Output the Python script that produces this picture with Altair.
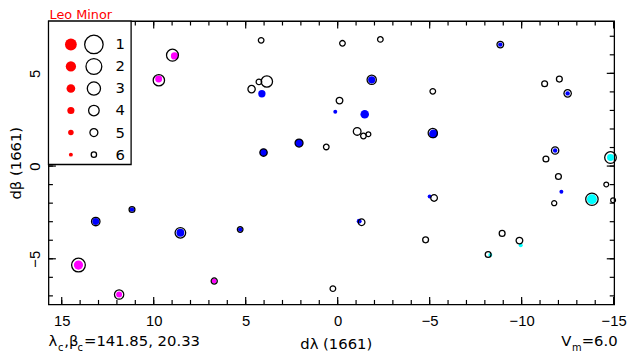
import altair as alt
import pandas as pd

# ---- open black circles: position (dλ, dβ) and magnitude
circ_x = [8.98, 9.72, 14.09, 11.88, 6.71, 13.15, 11.18, 8.55, 5.30, 0.26,
          -1.30, -4.78, -5.24, -8.18, -8.94, -9.88, -11.77, -13.82, -14.97, 4.16,
          -0.26, -2.32, 3.85, 4.28, 4.68, -1.85, -0.10, -1.06, -1.40, -1.67,
          2.10, 0.62, 4.03, -8.84, -5.17, -11.25, -12.05, -12.50, -5.17, -11.82,
          -11.32, -14.83, -12.00, -14.60]
circ_y = [5.98, 4.63, -5.34, -6.93, -6.20, -2.99, -2.34, -3.60, -3.42, -6.61,
          -3.03, -3.98, -1.72, -4.77, -3.63, -4.02, -2.00, -1.79, -1.84, 6.78,
          6.62, 6.83, 4.56, 4.54, 4.15, 4.65, 3.53, 1.87, 1.62, 1.72,
          1.24, 1.03, 0.73, 6.55, 4.03, 4.44, 4.69, 3.92, 1.78, 0.84,
          0.38, 0.46, -0.56, -0.99]
circ_m = [3.5, 3.7, 2.8, 4.5, 5.7, 4.8, 5.8, 4.0, 5.9, 5.9,
          5.5, 5.8, 5.5, 5.8, 5.8, 5.5, 6.1, 3.3, 6.2, 5.9,
          5.9, 5.9, 3.7, 5.9, 5.25, 4.5, 5.5, 5.1, 5.9, 6.2,
          5.0, 5.9, 5.25, 5.5, 5.9, 5.8, 5.8, 5.25, 4.5, 5.25,
          5.8, 3.6, 5.8, 6.2]

# ---- filled coloured dots: position, magnitude, colour class
dot_x = [8.87, 9.73, 14.09, 11.88, 6.71, 13.15, 11.18, 8.55, 5.30, -1.17,
         -5.00, -8.30, -9.95, -12.16, -13.82, 4.12, -1.85, 0.13, -1.47, 2.10,
         4.03, -8.84, -12.50, -5.21, -11.82, -14.83]
dot_y = [5.94, 4.69, -5.34, -6.93, -6.20, -2.99, -2.34, -3.60, -3.42, -2.97,
         -1.64, -4.80, -4.27, -1.38, -1.79, 3.90, 4.65, 2.93, 2.79, 1.24,
         0.73, 6.55, 3.92, 1.74, 0.84, 0.46]
dot_m = [3.9, 4.1, 2.7, 4.75, 5.4, 4.1, 5.6, 3.5, 5.7, 5.4,
         6.0, 6.0, 6.0, 6.0, 2.25, 3.9, 3.9, 6.0, 3.1, 3.5,
         3.8, 5.7, 5.7, 2.9, 5.7, 4.1]
dot_c = ["magenta", "magenta", "magenta", "magenta", "magenta", "blue", "blue", "blue", "blue", "blue",
         "blue", "cyan", "cyan", "blue", "cyan", "blue", "blue", "blue", "blue", "blue",
         "blue", "blue", "blue", "blue", "blue", "cyan"]

leg_mag = [1, 2, 3, 4, 5, 6]

x_major = [15, 10, 5, 0, -5, -10, -15]
x_minor = list(range(-15, 16))
y_major = [5, 0, -5]
y_minor = list(range(-7, 8))

W, H = 573, 287
FONT = "DejaVu Sans"

xs = alt.Scale(domain=[15.72, -15.03], nice=False, zero=False)
ys = alt.Scale(domain=[-7.46, 7.82], nice=False, zero=False)

x_axis = alt.Axis(values=x_major, format="d", ticks=False, domain=False, grid=False,
                  labelFont="Liberation Sans", labelFontSize=15, labelColor="black",
                  labelPadding=9, labelFlush=False,
                  title="dλ (1661)", titleFont=FONT, titleFontSize=15,
                  titleFontWeight="normal", titleColor="black", titlePadding=9,
                  titleX=291)
y_axis = alt.Axis(values=y_major, format="d", ticks=False, domain=False, grid=False,
                  labelFont="Liberation Sans", labelFontSize=15, labelColor="black",
                  labelAngle=-90, labelPadding=6, labelFlush=False,
                  title="dβ (1661)", titleFont=FONT, titleFontSize=15,
                  titleFontWeight="normal", titleColor="black", titlePadding=4)

circ_df = pd.DataFrame({"x": circ_x, "y": circ_y, "m": circ_m})
dot_df = pd.DataFrame({"x": dot_x, "y": dot_y, "m": dot_m, "c": dot_c})

dots = alt.Chart(dot_df).transform_calculate(
    s="pow(13.6 - 1.6*datum.m, 2)"
).mark_circle(opacity=1).encode(
    x=alt.X("x:Q", scale=xs, axis=x_axis),
    y=alt.Y("y:Q", scale=ys, axis=y_axis),
    size=alt.Size("s:Q", scale=None),
    color=alt.Color("c:N", scale=alt.Scale(domain=["blue", "magenta", "cyan"],
                                           range=["#0000ff", "#ff00ff", "#00ffff"]),
                    legend=None),
)

circles = alt.Chart(circ_df).transform_calculate(
    s="pow(21.36 - 2.66*datum.m, 2)"
).mark_point(shape="circle", filled=False, color="black", strokeWidth=1.3, opacity=1).encode(
    x=alt.X("x:Q", scale=xs, axis=x_axis),
    y=alt.Y("y:Q", scale=ys, axis=y_axis),
    size=alt.Size("s:Q", scale=None),
)


def xticks(vals, length, top):
    y0 = 0 if top else H
    y1 = length if top else H - length
    return alt.Chart(pd.DataFrame({"x": vals})).mark_rule(color="black", strokeWidth=1.2).encode(
        x=alt.X("x:Q", scale=xs, axis=x_axis), y=alt.value(y0), y2=alt.value(y1))


def yticks(vals, length, right):
    x0 = W if right else 0
    x1 = W - length if right else length
    return alt.Chart(pd.DataFrame({"y": vals})).mark_rule(color="black", strokeWidth=1.2).encode(
        y=alt.Y("y:Q", scale=ys, axis=y_axis), x=alt.value(x0), x2=alt.value(x1))


ticks = [
    xticks(x_minor, 4.5, False), xticks(x_major, 7.5, False),
    xticks(x_minor, 4.5, True), xticks(x_major, 7.5, True),
    yticks(y_minor, 4.5, False), yticks(y_major, 7.5, False),
    yticks(y_minor, 4.5, True), yticks(y_major, 7.5, True),
]

one = pd.DataFrame({"k": [0]})


def label(text, x, y, size=15, align="left", color="black"):
    return alt.Chart(one).mark_text(text=text, font=FONT, fontSize=size, align=align,
                                    baseline="alphabetic", color=color).encode(
        x=alt.value(x), y=alt.value(y))


texts = [
    label("Leo Minor", 1, -1.8, size=13, color="#ff0000"),
    label("λ", 0, 329.5),
    label("c", 9.7, 334, 10),
    label(",β", 16, 329.5),
    label("c", 29.3, 334, 10),
    label("=141.85, 20.33", 36, 329.5),
    label("V", 519.3, 329.5),
    label("m", 530.3, 334, 10),
    label("=6.0", 576.5, 329.5, align="right"),
]

main = alt.layer(dots, circles, *ticks, *texts)

# ---- magnitude key (top-left box)
leg_df = pd.DataFrame({"m": leg_mag})
leg_y = alt.Y("m:Q", scale=alt.Scale(domain=[1, 6], range=[23.7, 135.3]), axis=None)
box = alt.Chart(one).mark_rect(fill="white", stroke="black", strokeWidth=1.3).encode(
    x=alt.value(0), x2=alt.value(83.7), y=alt.value(0), y2=alt.value(145.3))
leg_dots = alt.Chart(leg_df).transform_calculate(
    s="pow(13.6 - 1.6*datum.m, 2)"
).mark_circle(color="#ff0000", opacity=1).encode(
    x=alt.value(22.7), y=leg_y, size=alt.Size("s:Q", scale=None))
leg_circ = alt.Chart(leg_df).transform_calculate(
    s="pow(21.36 - 2.66*datum.m, 2)"
).mark_point(shape="circle", filled=False, color="black", strokeWidth=1.3, opacity=1).encode(
    x=alt.value(46), y=leg_y, size=alt.Size("s:Q", scale=None))
leg_text = alt.Chart(leg_df).mark_text(font=FONT, fontSize=15, align="center",
                                       baseline="middle", color="black").encode(
    x=alt.value(72.7), y=leg_y, text="m:Q")
legend = alt.layer(box, leg_dots, leg_circ, leg_text)

chart = alt.layer(main, legend).resolve_scale(y="independent").properties(
    width=W, height=H,
    padding={"left": 41, "top": 11, "right": 14, "bottom": 47},
    autosize=alt.AutoSizeParams(type="none"),
).configure_view(stroke="black", strokeWidth=1.3)

chart.save("out.html", embed_options={"renderer": "svg", "actions": False})
